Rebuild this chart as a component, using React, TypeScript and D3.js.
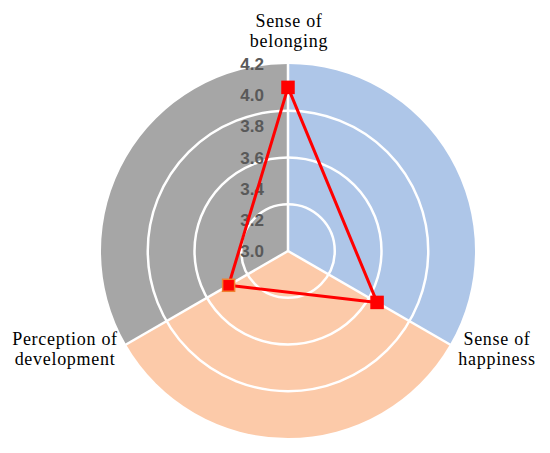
import React from "react";
import * as d3 from "d3";

const categories = ["Sense of belonging", "Sense of happiness", "Perception of development"];
const labelLines = [["Sense of", "belonging"], ["Sense of", "happiness"], ["Perception of", "development"]];
const values = [4.05, 3.66, 3.44];
const tickValues = [3.0, 3.2, 3.4, 3.6, 3.8, 4.0, 4.2];
const ringValues = [3.3, 3.6, 3.9];
const sectorColors = ["#aec6e8", "#fccaa9", "#a6a6a6"];

const W = 550;
const H = 453;
const cx = 288;
const cy = 251;
const R = 187;

export default function App() {
  const r = d3.scaleLinear().domain([3.0, 4.2]).range([0, R]);
  const n = categories.length;
  const angle = d3.scaleLinear().domain([0, n]).range([0, 2 * Math.PI]);
  const arc = d3.arc<any>();
  const pt = (i: number, v: number): [number, number] => {
    const a = angle(i);
    return [cx + r(v) * Math.sin(a), cy - r(v) * Math.cos(a)];
  };
  const pts = values.map((v, i) => pt(i, v));
  const line = d3.line().curve(d3.curveLinearClosed);

  const labelPos = [
    { x: 289, y: 27 },
    { x: 497, y: 345 },
    { x: 65, y: 345 },
  ];

  return (
    <svg width={W} height={H} style={{ position: "absolute", left: 0, top: 0, background: "#fff" }}>
      <g transform={`translate(${cx},${cy})`}>
        {categories.map((c, i) => (
          <path
            key={c}
            d={arc({ innerRadius: 0, outerRadius: R, startAngle: angle(i), endAngle: angle(i + 1) }) as string}
            fill={sectorColors[i]}
          />
        ))}
        {ringValues.map((v) => (
          <circle key={v} r={r(v)} fill="none" stroke="#fff" strokeWidth={2.5} />
        ))}
        {categories.map((c, i) => {
          const a = angle(i);
          return (
            <line key={c} x1={0} y1={0} x2={(R + 1) * Math.sin(a)} y2={-(R + 1) * Math.cos(a)} stroke="#fff" strokeWidth={2.5} />
          );
        })}
      </g>
      {tickValues.map((t) => (
        <text
          key={t}
          x={264}
          y={cy - r(t)}
          dy="0.36em"
          textAnchor="end"
          fontFamily="'Liberation Sans', Arial, sans-serif"
          fontWeight="bold"
          fontSize={17}
          fill="#595959"
        >
          {t.toFixed(1)}
        </text>
      ))}
      <path d={line(pts) as string} fill="none" stroke="#ff0000" strokeWidth={3} strokeLinejoin="round" />
      {pts.map((p, i) => (
        <rect
          key={i}
          x={p[0] - 6}
          y={p[1] - 6}
          width={12}
          height={12}
          fill="#ff0000"
          stroke={i === 2 ? "#f08030" : "#ff0000"}
          strokeWidth={1.5}
        />
      ))}
      {labelLines.map((lines, i) => (
        <text
          key={i}
          x={labelPos[i].x}
          y={labelPos[i].y}
          textAnchor="middle"
          fontFamily="'Liberation Serif', 'Times New Roman', serif"
          fontSize={18}
          letterSpacing={0.7}
          fill="#000"
        >
          {lines.map((l, j) => (
            <tspan key={j} x={labelPos[i].x} dy={j === 0 ? 0 : 20}>
              {l}
            </tspan>
          ))}
        </text>
      ))}
    </svg>
  );
}
